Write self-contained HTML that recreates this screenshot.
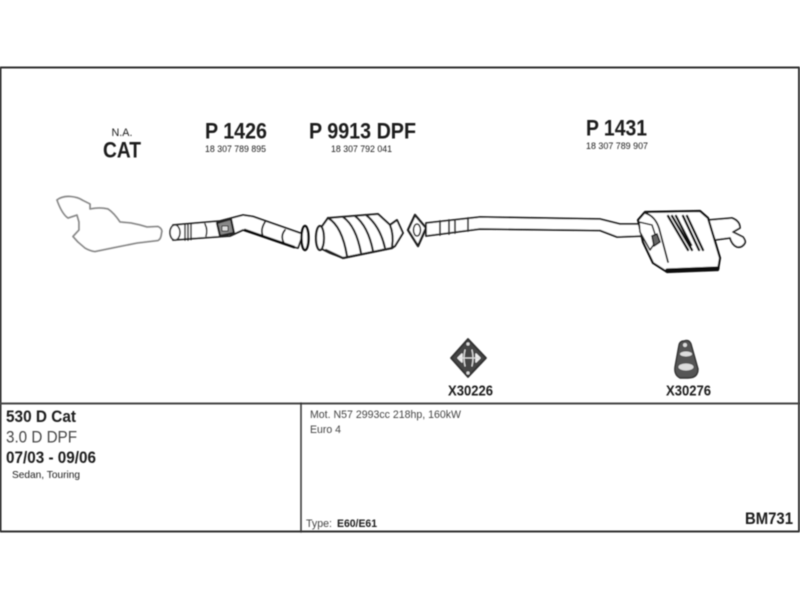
<!DOCTYPE html>
<html><head><meta charset="utf-8"><style>
html,body{margin:0;padding:0;background:#fff}
svg{display:block}
text{font-family:"Liberation Sans",sans-serif;fill:#1c1c1c}
.b{font-weight:bold}
</style></head><body>
<svg width="800" height="600" viewBox="0 0 800 600" xmlns="http://www.w3.org/2000/svg">
<defs><filter id="s" x="-5%" y="-5%" width="110%" height="110%"><feGaussianBlur stdDeviation="0.5"/></filter></defs>
<rect width="800" height="600" fill="#fff"/>
<g filter="url(#s)" stroke-linejoin="round" stroke-linecap="round">
<!-- frame -->
<g fill="none" stroke="#333">
<rect x="0.5" y="67.5" width="798.5" height="464" stroke-width="2"/>
<line x1="0" y1="403.5" x2="800" y2="403.5" stroke-width="2" stroke="#444"/>
<line x1="301" y1="403" x2="301" y2="532" stroke-width="1.5"/>
</g>
<!-- engine outline -->
<path d="M57 200 Q62 196 70 196.5 Q78 197 83 200.5 L90 204 L90 209 Q100 207 108 209 Q114 213 120 222 L131 223 L140 225 L147 227 L158 226.5 Q163 229 161.5 233 Q161 239 158 240.5 L137 243 L117 247 L95 251.5 Q90 251 85 248 L78 242 L73 236.5 L79 230 L79 222 L77 215 L68 218 Q62 214 57 200 Z" fill="#fff" stroke="#8a8a8a" stroke-width="1.8"/>
<!-- P1426 pipe -->
<path d="M173 225 L220 221 L243 215 L253 216.5 L303 234 L298 248 L293 247 L243 230 L230 236 L173 240 Z" fill="#fff" stroke="#222" stroke-width="1.8"/>
<ellipse cx="175" cy="232.5" rx="5" ry="7.5" fill="#fff" stroke="#333" stroke-width="1.6"/>
<path d="M185 225 L185 240 M188 224.5 L188 240 M191 224.5 L191 239.5" stroke="#222" stroke-width="1.5" fill="none"/>
<path d="M205 224 Q208 230 206 236" stroke="#222" stroke-width="1.6" fill="none"/>
<path d="M217 223 L231 219 L234 233 L220 236 Z" fill="#888" stroke="#222" stroke-width="2.2"/>
<rect x="222" y="226" width="6" height="5" fill="#ddd" stroke="#222"/>
<path d="M265 222 Q260 230 263 236 M285 230 Q280 236 284 243" stroke="#222" stroke-width="1.8" fill="none"/>
<path d="M245 230 L294 247" stroke="#111" stroke-width="2.6" fill="none"/>
<ellipse cx="305" cy="238" rx="3.5" ry="12" fill="#fff" stroke="#111" stroke-width="2.4"/>
<!-- catalyst -->
<path d="M318 232 L328 218 L378 214 L390 225 L397 220 L403 233 L395 246 L392 248 L343 258 L330 253 L318 247 Z" fill="#fff" stroke="#222" stroke-width="2"/>
<ellipse cx="320" cy="238" rx="4" ry="12" fill="#fff" stroke="#222" stroke-width="2.2"/>
<g fill="none" stroke="#222" stroke-width="2.2">
<path d="M328 218 Q342 226 347 256"/>
<path d="M343 217 Q356 226 361 253"/>
<path d="M355 216 Q368 226 373 251"/>
<path d="M366 215 Q380 226 385 248"/>
<path d="M326 250 L343 258 L392 248"/>
<path d="M390 225 Q394 235 392 247"/>
</g>
<!-- flange -->
<path d="M415 215 L426 228 L418 246 L408 230 Z" fill="#fff" stroke="#222" stroke-width="2.4"/>
<ellipse cx="417" cy="230" rx="3.5" ry="6" fill="#fff" stroke="#222" stroke-width="1.6"/>
<!-- main pipe -->
<path d="M426 223 L480 217 L600 219 L620 224 L645 224 L645 236 L617 237 L600 230.5 L480 229 L426 236 Z" fill="#fff" stroke="#222" stroke-width="1.8"/>
<path d="M440 221 L440 235 M449 220 L449 234 M455 220 L455 233 M468 218 L468 231" stroke="#333" stroke-width="1.8"/>
<!-- tail pipes -->
<path d="M708 220 L732 218 Q740 221 740 228 L733 232 L743 237 Q746 241 745 243 Q742 248 737 247 Q732 245 730 238 L715 240 Z" fill="#fff" stroke="#222" stroke-width="1.8"/>
<!-- muffler -->
<path d="M638 220 L645 212 L700 211 L708 218 L720 258 L718 270 L667 272 L653 263 L643 242 Z" fill="#fff" stroke="#111" stroke-width="2.2"/>
<path d="M667 270 L718 268" stroke="#111" stroke-width="3.2"/>
<path d="M645 213 Q655 216 659 228 L668 262" stroke="#222" stroke-width="1.8" fill="none"/>
<path d="M639 222 L652 225 L657 240 L650 250 L640 232 Z" fill="#fff" stroke="#222" stroke-width="1.6"/>
<path d="M652 236 L657 234 L660 242 L654 246 Z" fill="#666" stroke="#222" stroke-width="1.6"/>
<g stroke="#111" stroke-width="2.4" fill="none">
<path d="M668 216 L688 250"/><path d="M672 216 L692 250"/><path d="M676 216 L691 245"/>
<path d="M683 216 L699 250"/><path d="M687 216 L703 250"/>
</g>
<!-- X30226 -->
<path d="M468 339 L486 358 L468 377 L451 358 Z" fill="#444" stroke="#333" stroke-width="1.8"/>
<path d="M458 358 L462 354 L462 362 Z M480 358 L476 354 L476 362 Z" fill="#eee" stroke="#eee" stroke-width="1.5"/>
<path d="M459 358 L479 358 M465 350 Q463 358 465 366 M472 350 Q474 358 472 366" stroke="#ddd" stroke-width="1.3" fill="none"/>
<circle cx="468" cy="344" r="1.6" fill="#ddd"/><circle cx="468" cy="373" r="1.6" fill="#ddd"/>
<!-- X30276 -->
<path d="M684 341 Q689 339 691 344 L698 369 Q698 378 688 378 L680 378 Q674 375 675 367 L679 345 Q680 341 684 341 Z" fill="#555" stroke="#333" stroke-width="1.4"/>
<ellipse cx="685" cy="345" rx="2" ry="2" fill="#ddd"/>
<ellipse cx="686" cy="354" rx="6" ry="2.5" fill="#ddd"/>
<ellipse cx="686" cy="367" rx="7.5" ry="3.5" fill="#ddd"/>
<!-- labels -->
<text x="122" y="136" text-anchor="middle" font-size="11" textLength="21" lengthAdjust="spacingAndGlyphs">N.A.</text>
<text class="b" x="103" y="157.5" font-size="22" textLength="38" lengthAdjust="spacingAndGlyphs">CAT</text>
<text class="b" x="205" y="138.5" font-size="22" textLength="62" lengthAdjust="spacingAndGlyphs">P 1426</text>
<text x="205" y="152" font-size="9.5" textLength="61" lengthAdjust="spacingAndGlyphs">18 307 789 895</text>
<text class="b" x="309" y="138.5" font-size="22" textLength="107" lengthAdjust="spacingAndGlyphs">P 9913 DPF</text>
<text x="331" y="152" font-size="9.5" textLength="61" lengthAdjust="spacingAndGlyphs">18 307 792 041</text>
<text class="b" x="586" y="135.5" font-size="22" textLength="61" lengthAdjust="spacingAndGlyphs">P 1431</text>
<text x="586" y="149" font-size="9.5" textLength="62" lengthAdjust="spacingAndGlyphs">18 307 789 907</text>
<text class="b" x="448" y="395.5" font-size="14.5" textLength="45" lengthAdjust="spacingAndGlyphs">X30226</text>
<text class="b" x="666" y="395.5" font-size="14.5" textLength="45" lengthAdjust="spacingAndGlyphs">X30276</text>
<text class="b" x="6" y="422" font-size="16.5" textLength="70" lengthAdjust="spacingAndGlyphs">530 D Cat</text>
<text x="6" y="442.5" font-size="17" textLength="71" lengthAdjust="spacingAndGlyphs" style="fill:#444">3.0 D DPF</text>
<text class="b" x="6" y="463" font-size="17" textLength="90" lengthAdjust="spacingAndGlyphs">07/03 - 09/06</text>
<text x="12" y="478" font-size="10.5" textLength="68" lengthAdjust="spacingAndGlyphs">Sedan, Touring</text>
<text x="310" y="418" font-size="11" textLength="151" lengthAdjust="spacingAndGlyphs" style="fill:#444">Mot. N57 2993cc 218hp, 160kW</text>
<text x="310" y="433" font-size="11" textLength="31" lengthAdjust="spacingAndGlyphs" style="fill:#444">Euro 4</text>
<text x="306" y="527" font-size="11" textLength="26" lengthAdjust="spacingAndGlyphs" style="fill:#444">Type:</text>
<text class="b" x="337" y="527" font-size="11" textLength="40" lengthAdjust="spacingAndGlyphs">E60/E61</text>
<text class="b" x="745" y="524" font-size="16.5" textLength="48" lengthAdjust="spacingAndGlyphs">BM731</text>
</g>
</svg>
</body></html>
